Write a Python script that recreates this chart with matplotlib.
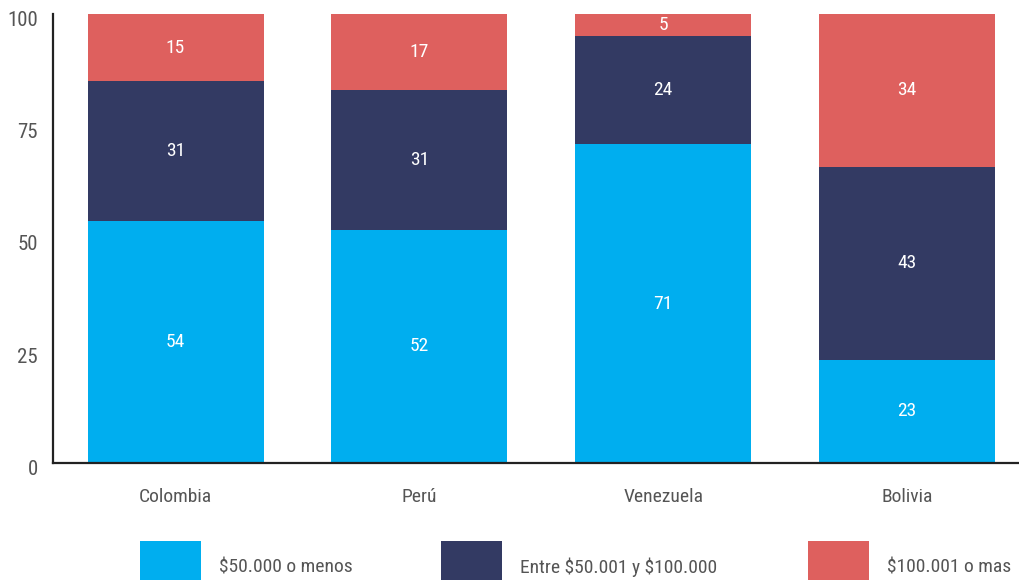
import matplotlib.pyplot as plt
import matplotlib.transforms as mtransforms
from matplotlib.patches import Rectangle
from matplotlib import font_manager

countries = ["Colombia", "Perú", "Venezuela", "Bolivia"]
bajo = [54, 52, 71, 23]
medio = [31, 31, 24, 43]
alto = [15, 17, 5, 34]
series_labels = ["$50.000 o menos", "Entre $50.001 y $100.000", "$100.001 o mas"]
colors = ["#00AEEF", "#333A63", "#DE605E"]
yticks = [0, 25, 50, 75, 100]

# buscar una fuente condensada si la hay
fonts = font_manager.fontManager.ttflist
condensed = [f.name for f in fonts
             if "Condensed" in f.name or "Narrow" in f.name
             or f.stretch in ("condensed", "semi-condensed", "extra-condensed")]
names = {f.name for f in fonts}
family = None
for cand in ["Roboto Condensed", "Liberation Sans Narrow", "Open Sans Condensed"] + condensed:
    if cand in names:
        family = cand
        break
if family is None:
    family = "Roboto" if "Roboto" in names else "DejaVu Sans"
plt.rcParams["font.family"] = [family, "DejaVu Sans"]
plt.rcParams["text.parse_math"] = False

W, H = 1019, 580
fig = plt.figure(figsize=(W / 100, H / 100), dpi=100)
ax = fig.add_axes([53 / W, (H - 463) / H, (W - 53) / W, 449 / H])

x = list(range(len(countries)))
width = 0.722
bottoms = [0] * len(countries)
for vals, col in zip([bajo, medio, alto], colors):
    bars = ax.bar(x, vals, width, bottom=bottoms, color=col, linewidth=0)
    for b, v, base in zip(bars, vals, bottoms):
        ax.text(b.get_x() + b.get_width() / 2, base + v / 2, str(v),
                ha="center", va="center", color="white", fontsize=14)
    bottoms = [a + v for a, v in zip(bottoms, vals)]

ax.set_xlim(-0.5025, 3.459)
ax.set_ylim(0, 100)
ax.set_yticks(yticks)
ax.set_xticks(x)
ax.set_xticklabels(countries)
ax.tick_params(axis="both", length=0, colors="#555555")
ax.tick_params(axis="x", pad=18, labelsize=14)
ax.tick_params(axis="y", pad=11, labelsize=15)
# las etiquetas del eje y cuelgan bajo su valor
shift = mtransforms.ScaledTranslation(0, 3 / 100, fig.dpi_scale_trans)
for lab in ax.get_yticklabels():
    lab.set_verticalalignment("top")
    lab.set_transform(lab.get_transform() + shift)
ax.spines["top"].set_visible(False)
ax.spines["right"].set_visible(False)
ax.spines["left"].set_color("#222222")
ax.spines["bottom"].set_color("#222222")
ax.spines["left"].set_linewidth(1.6)
ax.spines["bottom"].set_linewidth(1.6)

# leyenda manual
leg_x = [140, 441, 808]
for lx, lab, col in zip(leg_x, series_labels, colors):
    fig.add_artist(Rectangle((lx / W, -0.05), 61 / W, 39 / H + 0.05,
                             transform=fig.transFigure, color=col, linewidth=0))
    fig.text((lx + 79) / W, 1 - 567 / H, lab, ha="left", va="center",
             fontsize=14, color="#555555")

fig.savefig("out.png", dpi=100)
